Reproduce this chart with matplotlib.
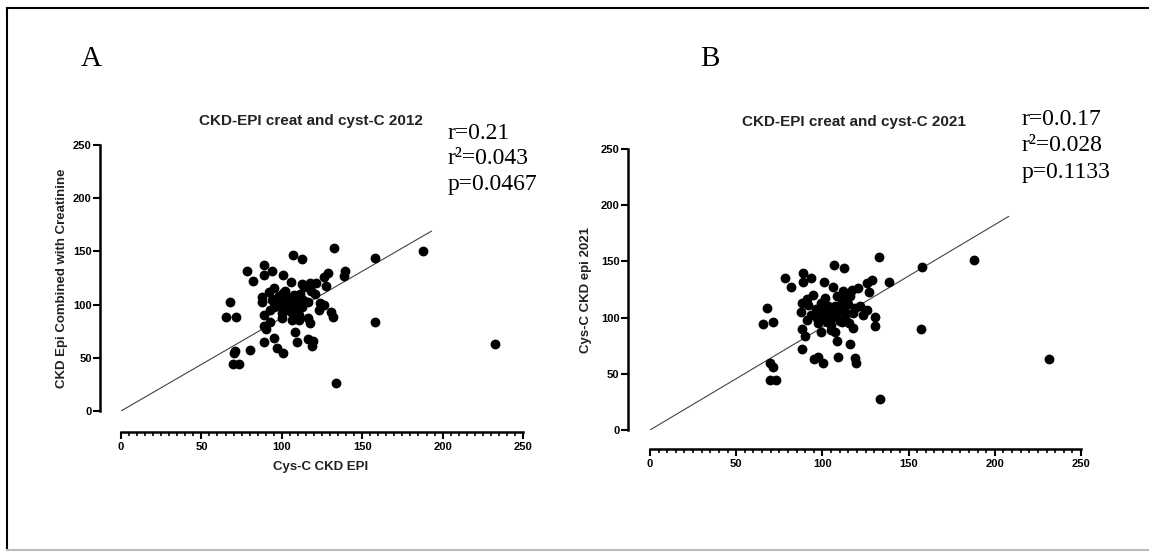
import matplotlib
matplotlib.use("Agg")
import matplotlib.pyplot as plt
from matplotlib.lines import Line2D

# ---- data ----
# panel A : CKD-EPI creat and cyst-C 2012
cys_a = [132.7, 106.9, 112.3, 158, 188, 88.7, 78.3, 93.8, 88.7, 101, 82, 105.9, 128.7, 126,
         139.4, 138.4, 112.5, 117.7, 121.4, 127.2, 94.9, 91.8, 87.6, 101, 107.3, 111.4, 120.8,
         67.9, 87.6, 93.8, 99, 102.1, 105.2, 109.4, 116.6, 123.9, 126, 122.9, 112.5, 107.3,
         100, 92.8, 130.7, 131.6, 88.7, 92.8, 100, 106.3, 110.4, 116, 117.7, 108.3, 65.5,
         71.3, 88.7, 90.1, 108.3, 157.7, 94.9, 88.7, 109.4, 116.6, 119.7, 118.7, 96.9, 100.7,
         80.4, 71.1, 70, 69.6, 73.1, 232.6, 133.8,
         97, 103, 104, 98, 110, 113, 100, 106, 95, 118, 114, 102, 96, 108, 111]
comb_a = [152.9, 146.6, 142.5, 143.5, 150.4, 137.2, 131.6, 131.9, 127.8, 127.8, 122.4, 121.6,
          130, 126.3, 131.9, 127.2, 119, 120.6, 120.6, 117.8, 115.3, 112.2, 107.5, 110.6, 109,
          109.6, 110, 102.8, 102.8, 104.3, 102.8, 104.9, 101.2, 102.8, 102.8, 101.2, 99.6, 94.9,
          97.4, 96.5, 96.5, 94.9, 93.4, 88, 90.2, 84, 87.1, 85.5, 85.5, 87.1, 83, 91.8, 88,
          88.7, 80, 76.8, 74.6, 83.3, 68.3, 64.5, 64.5, 67.7, 66.1, 61.4, 58.9, 54.2, 57.3,
          56.7, 54.2, 44.2, 44.2, 62.7, 26.6,
          100, 98, 106, 108, 96, 104, 92, 93, 98, 113, 117, 113, 105, 99, 90]
fit_x_a = [0, 193]
fit_y_a = [0, 169]

# panel B : CKD-EPI creat and cyst-C 2021
cys_b = [132.6, 106.9, 112.3, 157.5, 187.8, 231.5, 157.1, 133.7, 78.3, 88.5, 88.5, 93.3, 81.7,
         101, 105.9, 112.1, 117.1, 120.8, 125.6, 128.5, 138.5, 126.8, 94.7, 101.6, 90.8, 87.9,
         91.8, 67.6, 65.3, 71.3, 87.5, 93.1, 98.6, 99.5, 104.4, 107.2, 110.1, 113, 106.3,
         102.4, 90.8, 97.6, 104.9, 111.1, 118.8, 121.7, 125.6, 123.7, 117.8, 115.5, 117.8,
         130.4, 130.8, 88.3, 89.8, 99.3, 107.2, 108.2, 116, 88.3, 95.3, 97.2, 100.5, 109.2,
         118.8, 119.4, 69.6, 71.1, 69.6, 73, 113, 115.9, 108.2,
         96, 100, 103, 108, 110, 105, 97, 112, 115, 101, 106, 99, 113, 109, 104]
cys_epi_b = [153.8, 146.4, 144, 144.6, 151.1, 62.9, 90, 27.6, 135.6, 139.5, 131.5, 135.6, 127,
             132, 127, 124, 124.6, 126.1, 131.2, 133.5, 132, 123.2, 120.2, 117.2, 116.6, 112.7,
             111.2, 108.8, 94.4, 96.4, 105.3, 102.4, 106.9, 100.9, 103.9, 109.9, 111.3, 105.3,
             100.9, 96.4, 97.9, 95, 89, 96.4, 108.4, 110.4, 106.9, 102.4, 103.9, 95.6, 90.6,
             100.4, 92.6, 89.7, 83.7, 87.6, 87.6, 79.6, 76.3, 71.9, 62.9, 65.3, 60, 65.3, 63.8,
             59.4, 59.4, 56.4, 44.5, 44.5, 121.7, 118.8, 118.8,
             108, 104, 110, 102, 97, 93, 100, 115, 112, 99, 106, 113, 100, 107, 98]
fit_x_b = [0, 208]
fit_y_b = [0, 190]

ticks = [0, 50, 100, 150, 200, 250]

W, H = 1149, 552


def fx(x):
    return x / W


def fy(y):
    return 1 - y / H


def style_axes(ax, off_left, off_bottom):
    ax.set_xlim(0, 250)
    ax.set_ylim(0, 250)
    for s in ["top", "right"]:
        ax.spines[s].set_visible(False)
    ax.spines["left"].set_position(("outward", off_left))
    ax.spines["bottom"].set_position(("outward", off_bottom))
    ax.spines["left"].set_linewidth(1.8)
    ax.spines["bottom"].set_linewidth(1.8)
    ax.set_xticks(ticks)
    ax.set_yticks(ticks)
    ax.set_xticks(range(0, 251, 5), minor=True)
    ax.tick_params(axis="both", which="major", length=5, width=1.5, pad=2,
                   labelsize=8)
    ax.tick_params(axis="y", pad=1)
    ax.tick_params(axis="x", which="minor", length=3, width=1.2)
    for lab in ax.get_xticklabels() + ax.get_yticklabels():
        lab.set_fontweight("bold")
        lab.set_family("Liberation Sans")
    ax.patch.set_visible(False)


fig = plt.figure(figsize=(W / 100, H / 100), dpi=100)

# panel A
axA = fig.add_axes([fx(121), fy(411), fx(523) - fx(121), fy(145) - fy(411)])
axA.plot(fit_x_a, fit_y_a, color="#444444", lw=0.8)
axA.scatter(cys_a, comb_a, s=50, color="black", zorder=3, clip_on=False, linewidths=0)
style_axes(axA, 15, 15)

# panel B
axB = fig.add_axes([fx(650), fy(430), fx(1081) - fx(650), fy(149) - fy(430)])
axB.plot(fit_x_b, fit_y_b, color="#444444", lw=0.8)
axB.scatter(cys_b, cys_epi_b, s=50, color="black", zorder=3, clip_on=False, linewidths=0)
style_axes(axB, 16, 14)

sans = dict(family="Liberation Sans", fontweight="bold", color="#222222")
fig.text(fx(311), fy(121), "CKD-EPI creat and cyst-C 2012", fontsize=11,
         ha="center", va="center", **sans)
fig.text(fx(854), fy(122), "CKD-EPI creat and cyst-C 2021", fontsize=11,
         ha="center", va="center", **sans)
fig.text(fx(321), fy(467), "Cys-C CKD EPI", fontsize=9.5, ha="center", va="center", **sans)
fig.text(fx(62), fy(278), "CKD Epi Combined with Creatinine", fontsize=9.5,
         rotation=90, ha="center", va="center", **sans)
fig.text(fx(586), fy(290), "Cys-C CKD epi 2021", fontsize=9.5,
         rotation=90, ha="center", va="center", **sans)

serif = dict(family="Liberation Serif", color="black")
fig.text(fx(81), fy(66), "A", fontsize=21, ha="left", va="baseline", **serif)
fig.text(fx(700), fy(66), "B", fontsize=21, ha="left", va="baseline", **serif)

stats_a = ["r=0.21", "r²=0.043", "p=0.0467"]
stats_b = ["r=0.0.17", "r²=0.028", "p=0.1133"]
for i, s in enumerate(stats_a):
    fig.text(fx(448), fy(139 + 25.5 * i), s, fontsize=17, ha="left", va="baseline", **serif)
for i, s in enumerate(stats_b):
    fig.text(fx(1022), fy(125 + 26.5 * i), s, fontsize=17, ha="left", va="baseline", **serif)

# frame round the figure
fig.add_artist(Line2D([fx(7), 1], [fy(8), fy(8)], color="black", lw=1.5))
fig.add_artist(Line2D([fx(7), fx(7)], [fy(8), fy(550)], color="black", lw=1.5))
fig.add_artist(Line2D([fx(7), 1], [fy(550), fy(550)], color="#bbbbbb", lw=1.5))

fig.savefig("out.png", dpi=100)
